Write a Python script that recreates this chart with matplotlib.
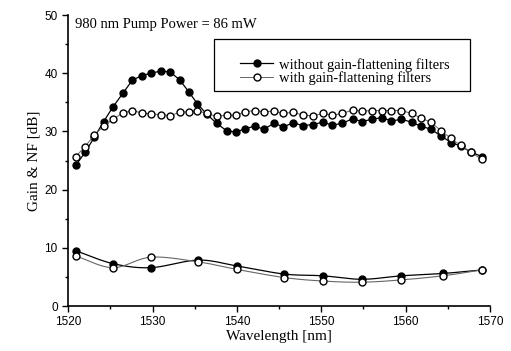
import numpy as np
from matplotlib import pyplot as plt
from matplotlib.ticker import MultipleLocator
from matplotlib.patches import Rectangle

# gain curves
wl_gain = [1520.9, 1522.0, 1523.1, 1524.2, 1525.3, 1526.5, 1527.6, 1528.7, 1529.8, 1531.0,
           1532.1, 1533.2, 1534.3, 1535.3, 1536.4, 1537.6, 1538.8, 1539.9, 1541.0, 1542.1,
           1543.2, 1544.4, 1545.5, 1546.7, 1547.8, 1549.0, 1550.2, 1551.3, 1552.5, 1553.7,
           1554.8, 1556.0, 1557.2, 1558.3, 1559.5, 1560.7, 1561.8, 1563.0, 1564.2, 1565.4,
           1566.5, 1567.7, 1569.0]
gain_without = [24.2, 26.4, 29.0, 31.7, 34.2, 36.6, 38.8, 39.6, 40.0, 40.4,
                40.2, 38.9, 36.8, 34.8, 33.0, 31.4, 30.1, 29.9, 30.5, 30.9,
                30.4, 31.4, 30.8, 31.5, 31.0, 31.2, 31.6, 31.1, 31.4, 32.2,
                31.7, 32.1, 32.4, 31.8, 32.1, 31.6, 30.9, 30.4, 29.2, 28.1,
                27.5, 26.5, 25.7]
gain_with = [25.7, 27.4, 29.4, 30.9, 32.1, 33.2, 33.6, 33.2, 33.0, 32.9,
             32.7, 33.3, 33.4, 33.6, 33.1, 32.6, 32.8, 32.8, 33.4, 33.6,
             33.4, 33.5, 33.1, 33.3, 32.8, 32.7, 33.1, 32.8, 33.1, 33.7,
             33.5, 33.6, 33.6, 33.6, 33.6, 33.1, 32.3, 31.6, 30.1, 28.8,
             27.6, 26.5, 25.2]

# noise figure curves
wl_nf = [1520.9, 1525.3, 1529.8, 1535.4, 1540.0, 1545.6, 1550.2, 1554.8, 1559.5, 1564.4, 1569.0]
nf_without = [9.5, 7.3, 6.6, 7.9, 6.9, 5.5, 5.2, 4.6, 5.2, 5.6, 6.2]
nf_with = [8.6, 6.6, 8.4, 7.6, 6.3, 4.9, 4.3, 4.1, 4.5, 5.2, 6.2]

def smooth(x, y, n=20):
    # catmull-rom curve through the points
    x = np.asarray(x, float); y = np.asarray(y, float)
    px = np.concatenate([[2*x[0]-x[1]], x, [2*x[-1]-x[-2]]])
    py = np.concatenate([[2*y[0]-y[1]], y, [2*y[-1]-y[-2]]])
    xs, ys = [], []
    t = np.linspace(0, 1, n)
    for i in range(1, len(px)-2):
        for p, out in ((px, xs), (py, ys)):
            p0, p1, p2, p3 = p[i-1], p[i], p[i+1], p[i+2]
            out.append(0.5*((2*p1) + (-p0+p2)*t + (2*p0-5*p1+4*p2-p3)*t**2 + (-p0+3*p1-3*p2+p3)*t**3))
    return np.concatenate(xs), np.concatenate(ys)

plt.rcParams['font.family'] = 'Liberation Serif'
fig = plt.figure(figsize=(5.11, 3.51), dpi=100)
ax = fig.add_axes([0.1334, 0.128, 0.8256, 0.829])

ax.plot(wl_gain, gain_without, '-o', color='k', lw=0.9, ms=5, mfc='k', mec='k',
        label='without gain-flattening filters', zorder=3)
ax.plot(wl_gain, gain_with, '-o', color='#666666', lw=0.7, ms=5, mfc='white', mec='k', mew=1.0,
        label='with gain-flattening filters', zorder=4)

sx, sy = smooth(wl_nf, nf_without)
ax.plot(sx, sy, color='k', lw=0.9, zorder=3)
ax.plot(wl_nf, nf_without, 'o', color='k', ms=5, zorder=3)
sx, sy = smooth(wl_nf, nf_with)
ax.plot(sx, sy, color='#666666', lw=0.8, zorder=4)
ax.plot(wl_nf, nf_with, 'o', ms=5, mfc='white', mec='k', mew=1.0, zorder=4)

ax.set_xlim(1520, 1570)
ax.set_ylim(0, 50)
ax.xaxis.set_major_locator(MultipleLocator(10))
ax.xaxis.set_minor_locator(MultipleLocator(5))
ax.yaxis.set_major_locator(MultipleLocator(10))
ax.yaxis.set_minor_locator(MultipleLocator(5))
ax.tick_params(which='major', direction='out', length=4, width=1, labelsize=8.5)
ax.tick_params(which='minor', direction='out', length=2, width=1)
for lab in ax.get_xticklabels() + ax.get_yticklabels():
    lab.set_family('Liberation Sans')
ax.spines['top'].set_visible(False)
ax.spines['right'].set_visible(False)
ax.spines['left'].set_linewidth(1.2)
ax.spines['bottom'].set_linewidth(1.2)

ax.set_xlabel('Wavelength [nm]', fontsize=11, labelpad=1)
ax.set_ylabel('Gain & NF [dB]', fontsize=11, labelpad=3)
ax.text(0.016, 0.99, '980 nm Pump Power = 86 mW', transform=ax.transAxes,
        fontsize=10.5, va='top', ha='left')

# legend box drawn separately for wider padding
ax.add_patch(Rectangle((0.3455, 0.739), 0.607, 0.1785, transform=ax.transAxes,
                       fill=False, edgecolor='k', lw=0.9, zorder=5))
leg = ax.legend(loc='center left', bbox_to_anchor=(0.407, 0.806), fontsize=10.5,
                frameon=False, borderpad=0, borderaxespad=0,
                handlelength=2.3, handletextpad=0.35, labelspacing=0.0)

plt.savefig('out.png', dpi=100)
